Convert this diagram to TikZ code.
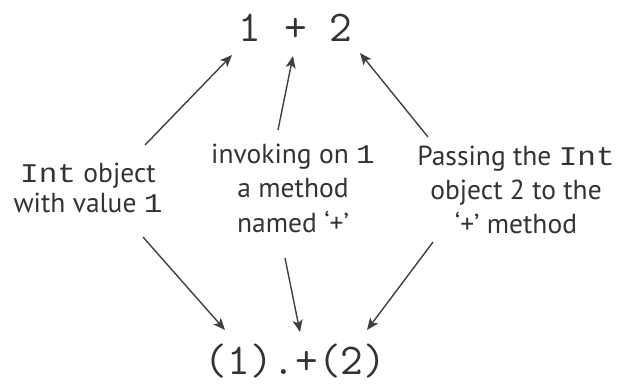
\documentclass[tikz,border=0pt]{standalone}
\usepackage{fontspec}
\setsansfont{PT Sans}
\setmonofont{Latin Modern Mono}
\newfontfamily\labelmono[FakeStretch=1.15]{Liberation Mono}
\usetikzlibrary{arrows.meta}
\definecolor{ink}{HTML}{333333}
\definecolor{arrowink}{HTML}{404040}
\newcommand{\cd}[1]{{\labelmono\fontsize{27}{27}\selectfont #1}}
\tikzset{
  code/.style={font=\fontsize{44}{44}\selectfont\ttfamily, text=ink, inner sep=0pt, anchor=base},
  note/.style={font=\fontsize{27.5}{#1}\selectfont\sffamily, text=ink, align=center, inner sep=0pt, anchor=base},
  pointer/.style={draw=arrowink, line width=1.4pt, -{Stealth[length=12pt, width=10pt, inset=3pt]}}
}
\begin{document}
\begin{tikzpicture}[x=1pt, y=-1pt]
\useasboundingbox (0,0) rectangle (620,384);
\node[code] (expr) at (295.5,41) {1 + 2};
\node[code] (call) at (295.5,374) {(1).+(2)};
\node[note=30] (left) at (88,212) {\cd{Int} object\\with value \cd{1}};
\node[note=34.5] (mid) at (293,232) {invoking on \cd{1}\\a method\\named `+'};
\node[note=34] (right) at (516,233) {Passing the \cd{Int}\\object 2 to the\\`+' method};
\coordinate (a1s) at (145,145); \coordinate (a1e) at (232,55);
\coordinate (a2s) at (278,130); \coordinate (a2e) at (293,56);
\coordinate (a3s) at (428,137); \coordinate (a3e) at (360,53);
\coordinate (b1s) at (143,237); \coordinate (b1e) at (225,330);
\coordinate (b2s) at (285,258); \coordinate (b2e) at (300,332);
\coordinate (b3s) at (433,242); \coordinate (b3e) at (367,330);
\draw[pointer] (a1s) -- (a1e);
\draw[pointer] (a2s) -- (a2e);
\draw[pointer] (a3s) -- (a3e);
\draw[pointer] (b1s) -- (b1e);
\draw[pointer] (b2s) -- (b2e);
\draw[pointer] (b3s) -- (b3e);
\end{tikzpicture}
\end{document}
